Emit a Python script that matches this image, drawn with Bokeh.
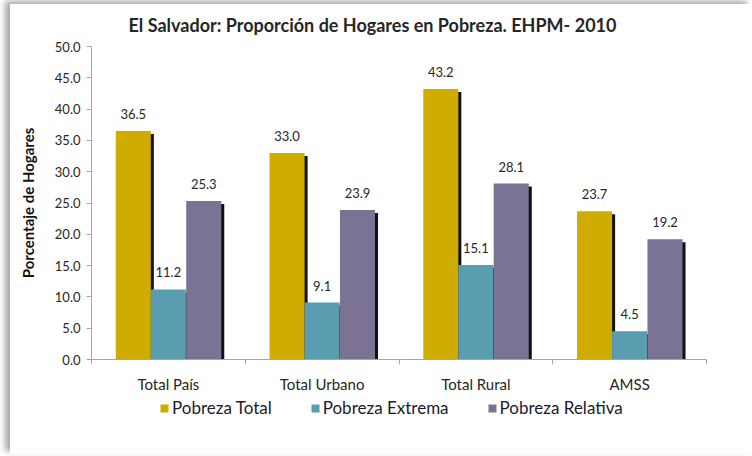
from bokeh.plotting import figure
from bokeh.layouts import column
from bokeh.models import (ColumnDataSource, FixedTicker, Legend, LegendItem,
                          Range1d, Title, NumeralTickFormatter, Spacer)
from bokeh.core.properties import value
from bokeh.embed import file_html
from bokeh.resources import INLINE

# ---- data ----
categories = ["Total País", "Total Urbano", "Total Rural", "AMSS"]
series_names = ["Pobreza Total", "Pobreza Extrema", "Pobreza Relativa"]
pobreza_total = [36.5, 33.0, 43.2, 23.7]
pobreza_extrema = [11.2, 9.1, 15.1, 4.5]
pobreza_relativa = [25.3, 23.9, 28.1, 19.2]
y_ticks = [0, 5, 10, 15, 20, 25, 30, 35, 40, 45, 50]

series_values = [pobreza_total, pobreza_extrema, pobreza_relativa]
colors = ["#D1AC00", "#5A9DB0", "#7A7393"]
offsets = [-0.228, 0.0, 0.23]
bar_w = 0.228
FONT = "Lato"

p = figure(output_backend="svg", toolbar_location=None,
           x_range=Range1d(0, 4), y_range=Range1d(0, 50),
           frame_width=615, frame_height=313,
           min_border_left=81, min_border_right=46, min_border_top=42,
           min_border_bottom=34)
p.outline_line_color = None
p.xgrid.visible = False
p.ygrid.visible = False

p.title = Title(text="El Salvador: Proporción de Hogares en Pobreza. EHPM- 2010",
                text_font=FONT, text_font_size="18px", text_font_style="bold",
                text_color="#262626", align="left", offset=37, standoff=17,
                vertical_align="top")

centers = [i + 0.5 for i in range(len(categories))]
dx = 3 * 4.0 / 615.0   # ~3px shadow
dy = 3 * 50.0 / 313.0

for vals, col, off, name in zip(series_values, colors, offsets, series_names):
    xs = [c + off for c in centers]
    src = ColumnDataSource(dict(x=xs, top=vals, xs=[x + dx for x in xs],
                                ts=[v - dy for v in vals],
                                lbl=[f"{v:.1f}" for v in vals]))
    p.vbar(x="xs", top="ts", bottom=0, width=bar_w, source=src,
           fill_color="#111111", line_color=None)
    p.vbar(x="x", top="top", bottom=0, width=bar_w, source=src,
           fill_color=col, line_color=None)
    p.text(x="x", y="top", text="lbl", source=src, text_align="center",
           text_baseline="bottom", y_offset=-12, text_font=value(FONT),
           text_font_size="13px", text_color="#262626")

# y axis
ya = p.yaxis[0]
ya.ticker = FixedTicker(ticks=y_ticks)
ya.formatter = NumeralTickFormatter(format="0.0")
ya.axis_label = "Porcentaje de Hogares"
ya.axis_label_text_font = FONT
ya.axis_label_text_font_size = "15px"
ya.axis_label_text_font_style = "bold"
ya.axis_label_text_color = "#111111"
ya.axis_label_standoff = 15
ya.major_label_text_font = FONT
ya.major_label_text_font_size = "13px"
ya.major_label_text_color = "#262626"
ya.axis_line_color = "#A6A6A6"
ya.major_tick_line_color = "#A6A6A6"
ya.major_tick_out = 5
ya.major_tick_in = 0
ya.minor_tick_line_color = None
ya.major_label_standoff = 6

# x axis
xa = p.xaxis[0]
xa.ticker = FixedTicker(ticks=centers, minor_ticks=list(range(len(categories) + 1)))
xa.major_label_overrides = {c: n for c, n in zip(centers, categories)}
xa.major_label_text_font = FONT
xa.major_label_text_font_size = "15px"
xa.major_label_text_color = "#262626"
xa.axis_line_color = "#A6A6A6"
xa.major_tick_line_color = None
xa.major_tick_out = 0
xa.major_tick_in = 0
xa.minor_tick_line_color = "#A6A6A6"
xa.minor_tick_out = 5
xa.minor_tick_in = 0
xa.major_label_standoff = 10

# legend strip (separate figure so that it is not clipped by the plot frame)
leg = figure(width=742, height=42, output_backend="svg", toolbar_location=None,
             x_range=Range1d(0, 1), y_range=Range1d(0, 1),
             x_axis_type=None, y_axis_type=None, min_border=0)
leg.outline_line_color = None
leg.grid.visible = False
leg_items = []
nan = float("nan")
for col, name in zip(colors, series_names):
    rr = leg.vbar(x=[nan], top=[nan], width=0.1, fill_color=col, line_color=None)
    leg_items.append(LegendItem(label=name, renderers=[rr]))
legend = Legend(items=leg_items, orientation="horizontal", location=(68, 19),
                label_text_font=FONT, label_text_font_size="17px",
                label_text_color="#1a1a2e", glyph_width=10, glyph_height=10,
                label_standoff=3, spacing=38, padding=0, margin=0,
                border_line_color=None, background_fill_alpha=0)
leg.add_layout(legend, "center")

layout = column(p, leg, Spacer(width=742, height=17), spacing=0)
layout.margin = (4, 0, 0, 10)
layout.styles = {"box-shadow": "-5px -3px 6px 0px rgba(0,0,0,0.35)",
                 "background": "#ffffff"}

open("out.html", "w").write(file_html(layout, INLINE))
